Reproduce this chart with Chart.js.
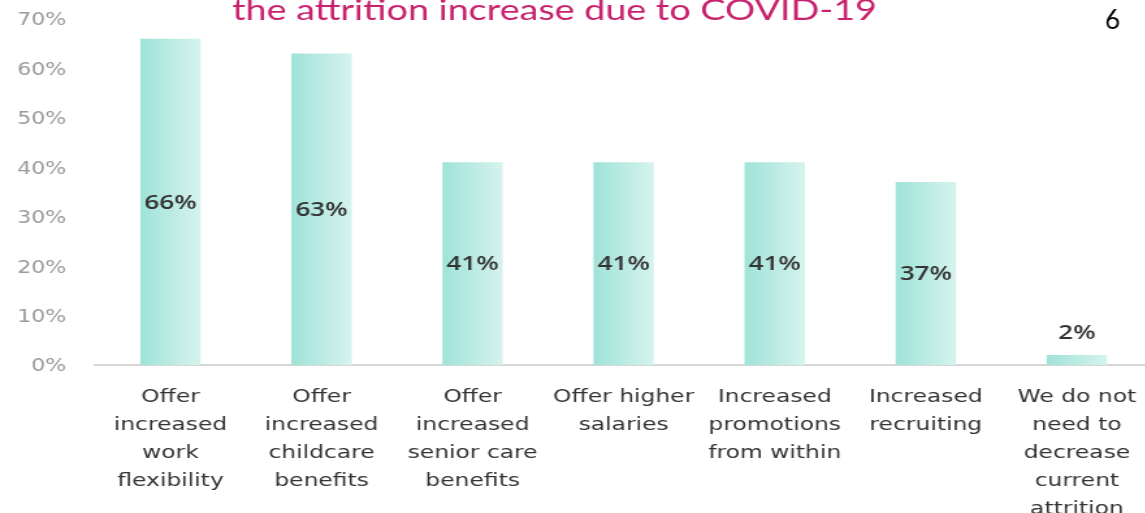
<!DOCTYPE html>
<html><head><meta charset="utf-8">
<script src="https://cdn.jsdelivr.net/npm/chart.js@4/dist/chart.umd.min.js"></script>
<style>
html,body{margin:0;padding:0;background:#fff;overflow:hidden;width:1145px;height:513px;}
#wrap{position:absolute;left:0;top:0;width:892px;height:513px;transform:scaleX(1.3004);transform-origin:0 0;}
</style></head><body>
<div id="wrap"><canvas id="c" width="892" height="513"></canvas></div>
<script>
const categories = [
  ["Offer","increased","work","flexibility"],
  ["Offer","increased","childcare","benefits"],
  ["Offer","increased","senior care","benefits"],
  ["Offer higher","salaries"],
  ["Increased","promotions","from within"],
  ["Increased","recruiting"],
  ["We do not","need to","decrease","current","attrition"]
];
const values = [66, 63, 41, 41, 41, 37, 2];
const yTickValues = [0, 10, 20, 30, 40, 50, 60, 70];
const titleText = "the attrition increase due to COVID-19";
const pageNumber = "6";

const S = 1.3004;

function barFill(ctx) {
  const chart = ctx.chart;
  const ca = chart.chartArea;
  if (!ca || !chart.scales.x) return '#b8ece3';
  const x = chart.scales.x.getPixelForValue(ctx.dataIndex);
  const hw = (ca.width / categories.length) * 0.4 / 2;
  const g = chart.ctx.createLinearGradient(x - hw, 0, x + hw, 0);
  g.addColorStop(0, '#9fe3d8');
  g.addColorStop(1, '#d6f3ee');
  return g;
}

const dataLabels = {
  id: 'dataLabels',
  afterDatasetsDraw(chart) {
    const ctx = chart.ctx;
    const meta = chart.getDatasetMeta(0);
    ctx.save();
    ctx.font = '600 20px "Open Sans"';
    ctx.fillStyle = '#333333';
    ctx.textAlign = 'center';
    ctx.textBaseline = 'middle';
    meta.data.forEach((bar, i) => {
      const v = values[i];
      const y = v < 10 ? bar.y - 22 : (bar.y + bar.base) / 2 + 1;
      ctx.fillText(v + '%', bar.x, y);
    });
    ctx.restore();
  }
};

const decor = {
  id: 'decor',
  afterDraw(chart) {
    const ctx = chart.ctx;
    ctx.save();
    ctx.font = '29px Lato';
    ctx.fillStyle = '#c8216d';
    ctx.textAlign = 'center';
    ctx.textBaseline = 'alphabetic';
    ctx.fillText(titleText, 554.5 / S, 20);
    ctx.scale(1 / S, 1);
    ctx.font = '26px Lato';
    ctx.fillStyle = '#000';
    ctx.textAlign = 'left';
    ctx.fillText(pageNumber, 1105, 29);
    ctx.restore();
  }
};

new Chart(document.getElementById('c'), {
  type: 'bar',
  data: {
    labels: categories,
    datasets: [{
      data: values,
      backgroundColor: barFill,
      borderWidth: 0,
      barPercentage: 0.4,
      categoryPercentage: 1.0
    }]
  },
  options: {
    responsive: false,
    animation: false,
    devicePixelRatio: 1,
    layout: { padding: { top: 19, right: 4, left: 0, bottom: 0 } },
    plugins: { legend: { display: false }, tooltip: { enabled: false }, title: { display: false } },
    scales: {
      x: {
        grid: { display: false, drawTicks: false },
        border: { display: true, color: '#d6d6d6', width: 2 },
        ticks: {
          autoSkip: false, maxRotation: 0, minRotation: 0, padding: 18,
          color: '#333333',
          font: { family: 'DejaVu Sans', size: 18, lineHeight: 1.56 }
        },
        afterFit(scale) { scale.height = 148; }
      },
      y: {
        min: 0, max: 70,
        afterBuildTicks(scale) { scale.ticks = yTickValues.map(v => ({ value: v })); },
        grid: { display: false, drawTicks: true, tickLength: 22 },
        border: { display: false },
        ticks: {
          padding: 0,
          labelOffset: 2,
          color: '#999999',
          font: { family: 'DejaVu Sans', size: 17 },
          callback: v => v + '%'
        },
        afterFit(scale) { scale.width = 73; }
      }
    }
  },
  plugins: [dataLabels, decor]
});
</script>
</body></html>
